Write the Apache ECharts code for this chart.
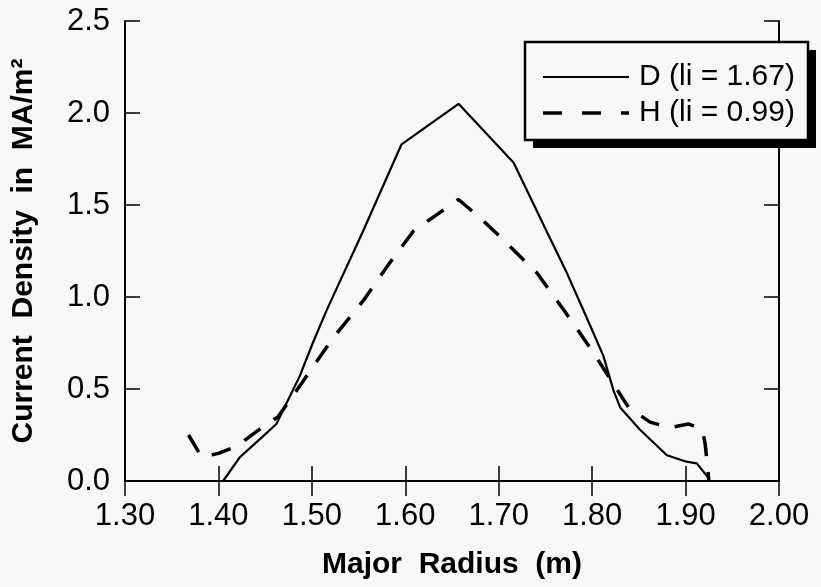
<!DOCTYPE html>
<html>
<head>
<meta charset="utf-8">
<script src="https://cdn.jsdelivr.net/npm/echarts@6/dist/echarts.min.js"></script>
<style>
html,body{margin:0;padding:0;background:#f7f7f7;}
#chart{width:821px;height:587px;}
</style>
</head>
<body>
<div id="chart"></div>
<script>
// Series D (li = 1.67): solid
var dX = [1.405, 1.423, 1.445, 1.462, 1.487, 1.501, 1.516, 1.555, 1.596, 1.657, 1.716, 1.751, 1.773, 1.794, 1.812, 1.823, 1.830, 1.851, 1.880, 1.901, 1.912, 1.924, 1.925];
var dY = [0.00, 0.13, 0.23, 0.31, 0.57, 0.75, 0.93, 1.36, 1.83, 2.05, 1.73, 1.36, 1.13, 0.89, 0.68, 0.49, 0.40, 0.28, 0.14, 0.105, 0.096, 0.02, 0.00];
// Series H (li = 0.99): dashed
var hX = [1.368, 1.382, 1.400, 1.420, 1.441, 1.464, 1.493, 1.523, 1.555, 1.584, 1.609, 1.657, 1.680, 1.701, 1.741, 1.771, 1.801, 1.825, 1.839, 1.862, 1.883, 1.903, 1.918, 1.921, 1.925];
var hY = [0.25, 0.13, 0.15, 0.19, 0.27, 0.35, 0.56, 0.78, 0.98, 1.19, 1.36, 1.53, 1.43, 1.33, 1.13, 0.92, 0.70, 0.51, 0.40, 0.32, 0.29, 0.31, 0.28, 0.20, 0.00];
var seriesNames = ['D (li = 1.67)', 'H (li = 0.99)'];
var xTitle = 'Major  Radius  (m)';
var yTitle = 'Current  Density  in  MA/m²';

function pairs(xs, ys) { return xs.map(function (x, i) { return [x, ys[i]]; }); }

var chart = echarts.init(document.getElementById('chart'), null, {renderer: 'canvas'});
var axisLine = {show: true, lineStyle: {color: '#000', width: 2}};
var axisTick = {show: true, inside: true, length: 15, lineStyle: {color: '#000', width: 1.5}};
var font = 'Liberation Sans, Arial, Helvetica, sans-serif';
var dashPattern = [20, 16];

// legend box drawn as graphic (box with a solid drop shadow)
var lg = {x: 525, y: 42, w: 283, h: 98, sh: 8};
var legendGraphic = [
  {type: 'rect', z: 100, shape: {x: lg.x + lg.sh, y: lg.y + lg.sh, width: lg.w, height: lg.h}, style: {fill: '#000'}},
  {type: 'rect', z: 101, shape: {x: lg.x, y: lg.y, width: lg.w, height: lg.h}, style: {fill: '#f7f7f7', stroke: '#000', lineWidth: 2.5}},
  {type: 'line', z: 102, shape: {x1: 543, y1: 77, x2: 629, y2: 77}, style: {stroke: '#000', lineWidth: 2}},
  {type: 'line', z: 102, shape: {x1: 543, y1: 113, x2: 629, y2: 113}, style: {stroke: '#000', lineWidth: 3.5, lineDash: [19, 20]}},
  {type: 'text', z: 102, x: 639, y: 77, style: {text: seriesNames[0], font: '30px ' + font, fill: '#000', textVerticalAlign: 'middle', verticalAlign: 'middle'}},
  {type: 'text', z: 102, x: 639, y: 113, style: {text: seriesNames[1], font: '30px ' + font, fill: '#000', textVerticalAlign: 'middle', verticalAlign: 'middle'}}
];

chart.setOption({
  backgroundColor: '#f7f7f7',
  animation: false,
  grid: {left: 125, right: 42, top: 21, bottom: 106, containLabel: false},
  graphic: legendGraphic,
  xAxis: [{
    type: 'value', min: 1.3, max: 2.0, interval: 0.1, position: 'bottom',
    axisLine: axisLine, axisTick: axisTick, splitLine: {show: false},
    axisLabel: {fontSize: 31, color: '#000', fontFamily: font, margin: 20,
      formatter: function (v) { return v.toFixed(2); }},
    name: xTitle, nameLocation: 'middle', nameGap: 69,
    nameTextStyle: {fontSize: 30, fontWeight: 'bold', color: '#000', fontFamily: font}
  }, {
    type: 'value', min: 1.3, max: 2.0, interval: 0.1, position: 'top',
    axisLine: axisLine, axisTick: axisTick, splitLine: {show: false},
    axisLabel: {show: false}
  }],
  yAxis: [{
    type: 'value', min: 0, max: 2.5, interval: 0.5, position: 'left',
    axisLine: axisLine, axisTick: axisTick, splitLine: {show: false},
    axisLabel: {fontSize: 31, color: '#000', fontFamily: font, margin: 15,
      formatter: function (v) { return v.toFixed(1); }},
    name: yTitle, nameLocation: 'middle', nameGap: 86,
    nameTextStyle: {fontSize: 30, fontWeight: 'bold', color: '#000', fontFamily: font}
  }, {
    type: 'value', min: 0, max: 2.5, interval: 0.5, position: 'right',
    axisLine: axisLine, axisTick: axisTick, splitLine: {show: false},
    axisLabel: {show: false}
  }],
  series: [{
    name: seriesNames[0], type: 'line', showSymbol: false, symbol: 'none',
    data: pairs(dX, dY),
    lineStyle: {color: '#000', width: 2.2, type: 'solid'},
    itemStyle: {color: '#000'}
  }, {
    name: seriesNames[1], type: 'line', showSymbol: false, symbol: 'none',
    data: pairs(hX, hY),
    lineStyle: {color: '#000', width: 3.5, type: dashPattern},
    itemStyle: {color: '#000'}
  }]
});
</script>
</body>
</html>
